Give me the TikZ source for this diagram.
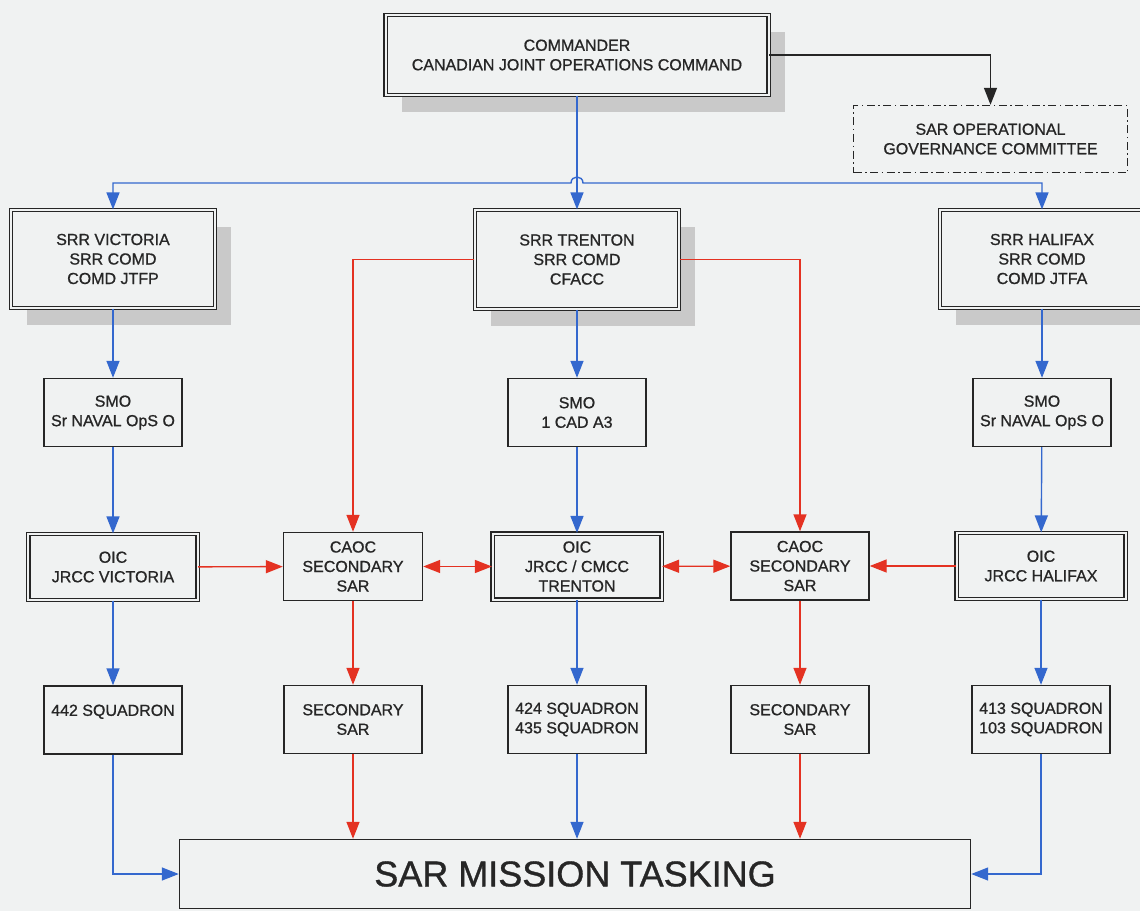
\documentclass[tikz,border=0pt]{standalone}
\usepackage{fontspec}
\setmainfont{Liberation Sans}
\newfontfamily\boxfont[FakeBold=0.9]{Liberation Sans}
\usetikzlibrary{arrows.meta,shadows}

\definecolor{paper}{RGB}{240,242,242}
\definecolor{ink}{RGB}{38,38,38}
\definecolor{linkblue}{RGB}{52,104,206}
\definecolor{linkred}{RGB}{228,50,34}
\definecolor{shade}{RGB}{201,201,201}

\begin{document}
\begin{tikzpicture}[x=1bp,y=-1bp,
        box/.style={draw=ink,line width=1.4bp,fill=paper,text=ink,align=center,inner sep=0pt,
            font=\boxfont\fontsize{16bp}{19.5bp}\selectfont,minimum width=138bp,minimum height=68bp},
        dbox/.style={box,double=paper,double distance=2bp,line width=1.2bp},
        shadowed/.style={drop shadow={shadow xshift=16bp,shadow yshift=-17bp,fill=shade,opacity=1}},
        tip/.style={-{Triangle[length=17bp,width=13bp]}},
        blueline/.style={linkblue,line width=1.4bp,tip},
        redline/.style={linkred,line width=1.4bp,tip},
        redboth/.style={linkred,line width=1.4bp,{Triangle[length=17bp,width=13bp]}-{Triangle[length=17bp,width=13bp]}},
        blackline/.style={ink,line width=1.4bp,tip}]
    \useasboundingbox[fill=paper] (0,0) rectangle (1140,911);

    % top level
    \node[dbox,shadowed,minimum width=383bp,minimum height=80bp] (cmd) at (577,55) {COMMANDER\\CANADIAN JOINT OPERATIONS COMMAND};
    \node[box,dash pattern=on 8bp off 3.5bp on 1.5bp off 3.5bp,minimum width=274bp,minimum height=67bp] (gov) at (990.5,139) {SAR OPERATIONAL\\GOVERNANCE COMMITTEE};

    % search and rescue regions
    \node[dbox,shadowed,minimum width=204bp,minimum height=98bp] (victoria) at (113,259) {SRR VICTORIA\\SRR COMD\\COMD JTFP};
    \node[dbox,shadowed,minimum width=204bp,minimum height=99bp] (trenton) at (577,259.5) {SRR TRENTON\\SRR COMD\\CFACC};
    \node[dbox,shadowed,minimum width=204bp,minimum height=98bp] (halifax) at (1042,259) {SRR HALIFAX\\SRR COMD\\COMD JTFA};

    \node[box] (smoV) at (113,412.5) {SMO\\Sr NAVAL OpS O};
    \node[box] (smoT) at (577,412.5) {SMO\\1 CAD A3};
    \node[box] (smoH) at (1042,412.5) {SMO\\Sr NAVAL OpS O};

    % rescue coordination row
    \node[dbox,minimum width=169bp,minimum height=66bp] (oicV) at (113,567) {OIC\\JRCC VICTORIA};
    \node[box,minimum width=139bp] (caocL) at (353,566.5) {CAOC\\SECONDARY\\SAR};
    \node[dbox,minimum width=169bp,minimum height=66bp] (oicT) at (577,566.5) {OIC\\JRCC / CMCC\\TRENTON};
    \node[box] (caocR) at (800,566) {CAOC\\SECONDARY\\SAR};
    \node[dbox,minimum width=169bp,minimum height=66bp] (oicH) at (1041,566) {OIC\\JRCC HALIFAX};

    % units
    \node[box] (sq442) at (113,720) {442 SQUADRON\\\mbox{}};
    \node[box] (secL) at (353,719.5) {SECONDARY\\SAR};
    \node[box] (sq424) at (577,719.5) {424 SQUADRON\\435 SQUADRON};
    \node[box] (secR) at (800,719.5) {SECONDARY\\SAR};
    \node[box] (sq413) at (1041,719.5) {413 SQUADRON\\103 SQUADRON};

    \node[box,minimum width=791bp,minimum height=69bp,font=\boxfont\fontsize{36bp}{40bp}\selectfont] (sar) at (575,874) {SAR MISSION TASKING};

    % command lines
    \coordinate (hopL) at (571,183);
    \coordinate (hopR) at (583,183);
    \draw[blackline] (cmd.east) -| (gov.north);
    \draw[blueline] (cmd.south) -- (trenton.north);
    \draw[linkblue,line width=1.4bp,{Triangle[length=17bp,width=13bp]}-{Triangle[length=17bp,width=13bp]}]
        (victoria.north) |- (hopL) .. controls +(0,-8) and +(0,-8) .. (hopR) -| (halifax.north);

    \draw[blueline] (victoria) -- (smoV);
    \draw[blueline] (smoV) -- (oicV);
    \draw[blueline] (oicV) -- (sq442);
    \draw[blueline] (sq442.south) |- (sar.west);

    \draw[blueline] (trenton) -- (smoT);
    \draw[blueline] (smoT) -- (oicT);
    \draw[blueline] (oicT) -- (sq424);
    \draw[blueline] (sq424.south) -- (sq424.south |- sar.north);

    \draw[blueline] (halifax) -- (smoH);
    \draw[blueline] (smoH) -- (oicH);
    \draw[blueline] (oicH) -- (sq413);
    \draw[blueline] (sq413.south) |- (sar.east);

    % secondary sar lines
    \draw[redline] (trenton.west) -| (caocL.north);
    \draw[redline] (trenton.east) -| (caocR.north);
    \draw[redline] (oicV) -- (caocL);
    \draw[redboth] (caocL) -- (oicT);
    \draw[redboth] (oicT) -- (caocR);
    \draw[redline] (oicH) -- (caocR);
    \draw[redline] (caocL) -- (secL);
    \draw[redline] (caocR) -- (secR);
    \draw[redline] (secL.south) -- (secL.south |- sar.north);
    \draw[redline] (secR.south) -- (secR.south |- sar.north);
\end{tikzpicture}
\end{document}
